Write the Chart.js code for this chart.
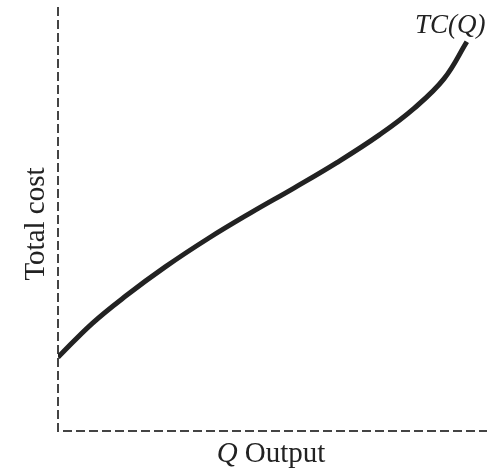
<!DOCTYPE html>
<html>
<head>
<meta charset="utf-8">
<script src="https://cdn.jsdelivr.net/npm/chart.js@4.4.0/dist/chart.umd.min.js"></script>
<style>
  html, body { margin: 0; padding: 0; background: #fff; }
  #wrap { width: 493px; height: 470px; }
</style>
</head>
<body>
<div id="wrap"><canvas id="chart" width="493" height="470"></canvas></div>
<script>
// output level (0..100 of the axis) and total cost
var quantity = [0, 8, 16, 25, 35, 45, 55, 65, 75, 83, 90, 95.3];
var totalCost = [17.4, 25.4, 32.0, 38.7, 45.4, 51.5, 57.3, 63.3, 69.9, 76.1, 83.1, 91.8];

var curveLabel = 'TC(Q)';
var yLabel = 'Total cost';
var xLabelVar = 'Q';
var xLabelText = ' Output';

const serif = '"Liberation Serif", "DejaVu Serif", serif';

// dashed axes along the left and bottom of the plot area
const axes_plugin = {
    id: 'axes_plugin',
    beforeDatasetsDraw(chart) {
        const ctx = chart.ctx;
        const area = chart.chartArea;
        ctx.save();
        ctx.strokeStyle = '#444';
        ctx.lineWidth = 2;
        ctx.setLineDash([9, 4]);
        ctx.beginPath();
        ctx.moveTo(area.left, area.top);
        ctx.lineTo(area.left, area.bottom);
        ctx.lineTo(area.right, area.bottom);
        ctx.stroke();
        ctx.restore();
    }
};

const labels_plugin = {
    id: 'labels_plugin',
    afterDraw(chart) {
        const ctx = chart.ctx;
        const area = chart.chartArea;
        ctx.save();
        ctx.fillStyle = '#222';

        // curve name at its top end
        ctx.font = 'italic 27px ' + serif;
        ctx.textAlign = 'left';
        ctx.textBaseline = 'alphabetic';
        ctx.fillText(curveLabel, 415, 33);

        // x axis label, Q in italic
        ctx.font = 'italic 29px ' + serif;
        const w1 = ctx.measureText(xLabelVar).width;
        ctx.font = '29px ' + serif;
        const w2 = ctx.measureText(xLabelText).width;
        let x0 = 271 - (w1 + w2) / 2;
        ctx.font = 'italic 29px ' + serif;
        ctx.fillText(xLabelVar, x0, 462);
        ctx.font = '29px ' + serif;
        ctx.fillText(xLabelText, x0 + w1, 462);

        // y axis label, rotated
        ctx.translate(36, 224);
        ctx.rotate(-Math.PI / 2);
        ctx.textAlign = 'center';
        ctx.textBaseline = 'middle';
        ctx.fillText(yLabel, 0, 0);
        ctx.restore();
    }
};

function draw_chart() {
    const points = quantity.map(function (q, i) { return {x: q, y: totalCost[i]}; });
    var ctx = document.getElementById('chart').getContext('2d');
    var myChart = new Chart(ctx, {
        type: 'line',
        data: {
            datasets: [{
                label: curveLabel,
                data: points,
                borderColor: '#222',
                borderWidth: 5,
                pointRadius: 0,
                tension: 0.4,
                fill: false
            }]
        },
        options: {
            responsive: false,
            animation: false,
            layout: { padding: { left: 58, top: 7, right: 6, bottom: 39 } },
            plugins: {
                legend: { display: false },
                tooltip: { enabled: false }
            },
            scales: {
                x: {
                    type: 'linear',
                    min: 0,
                    max: 100,
                    ticks: { display: false },
                    grid: { display: false, drawTicks: false },
                    border: { display: false }
                },
                y: {
                    min: 0,
                    max: 100,
                    ticks: { display: false },
                    grid: { display: false, drawTicks: false },
                    border: { display: false }
                }
            }
        },
        plugins: [axes_plugin, labels_plugin]
    });
}

draw_chart();
</script>
</body>
</html>
